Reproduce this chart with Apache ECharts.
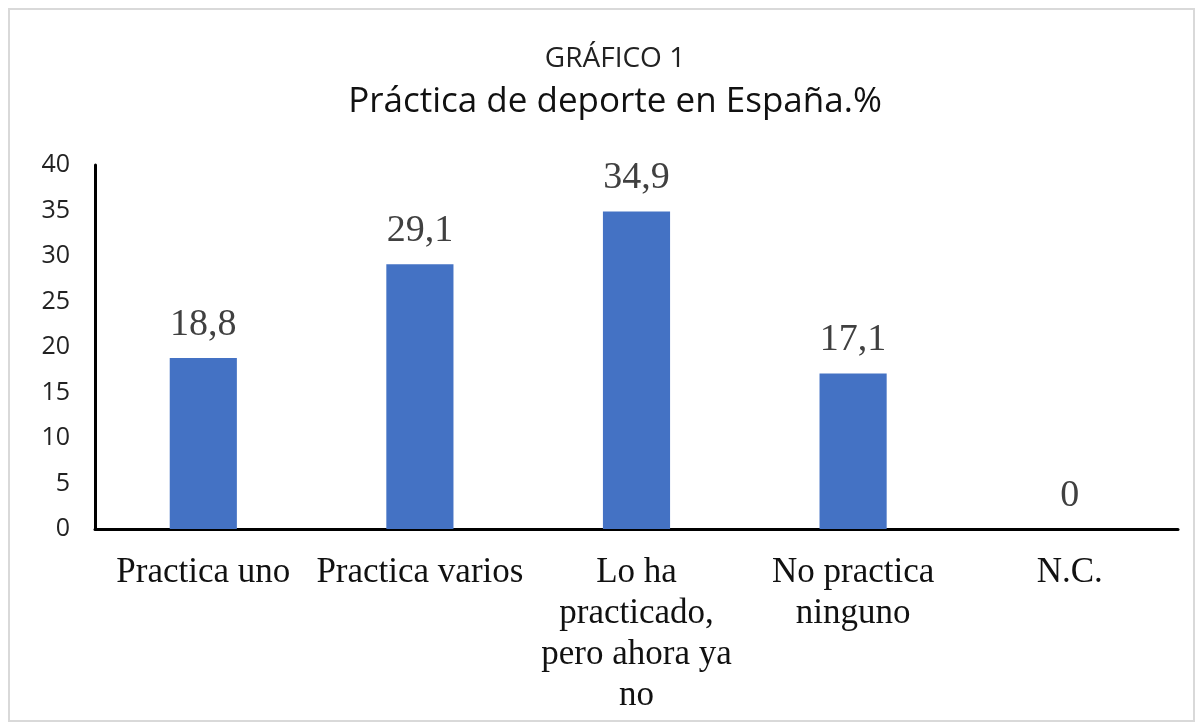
<!DOCTYPE html>
<html><head><meta charset="utf-8">
<script src="https://cdn.jsdelivr.net/npm/echarts@6/dist/echarts.min.js"></script>
<style>html,body{margin:0;padding:0;background:#fff}#c{width:1203px;height:724px}</style>
</head><body><div id="c"></div>
<script>
const categories = ['Practica uno', 'Practica varios', 'Lo ha\npracticado,\npero ahora ya\nno', 'No practica\nninguno', 'N.C.'];
const values = [18.8, 29.1, 34.9, 17.1, 0];
const yTicks = [0, 40, 5];
const chart = echarts.init(document.getElementById('c'));
chart.setOption({
  animation: false,
  graphic: [{type:'rect', shape:{x:9, y:9, width:1185, height:712}, style:{fill:'none', stroke:'#d9d9d9', lineWidth:2}}],
  title: [
    {text:'GRÁFICO 1', left:610, textAlign:'center', top:40, textStyle:{fontFamily:'Open Sans', fontWeight:'normal', fontSize:28, color:'#222'}},
    {text:'Práctica de deporte en España.%', left:610, textAlign:'center', top:80, textStyle:{fontFamily:'Open Sans', fontWeight:'normal', fontSize:35, color:'#111'}}
  ],
  grid: {left:95, right:25, top:165, bottom:195, containLabel:false},
  xAxis: {type:'category', data:categories,
    axisLine:{lineStyle:{color:'#000', width:3}}, axisTick:{show:false},
    axisLabel:{interval:0, fontFamily:'Liberation Serif', fontSize:35, color:'#111', lineHeight:41, margin:23}},
  yAxis: {type:'value', min:yTicks[0], max:yTicks[1], interval:yTicks[2],
    axisLine:{show:true, lineStyle:{color:'#000', width:3}}, axisTick:{show:false}, splitLine:{show:false},
    axisLabel:{fontFamily:'Open Sans', fontSize:25, color:'#222', margin:25}},
  series: [{type:'bar', data:values, barWidth:'31%', itemStyle:{color:'#4472C4'},
    label:{show:true, position:'top', distance:14, fontFamily:'Liberation Serif', fontSize:38, color:'#404040',
      formatter: p => String(p.value).replace('.', ',')}}]
});
</script></body></html>
